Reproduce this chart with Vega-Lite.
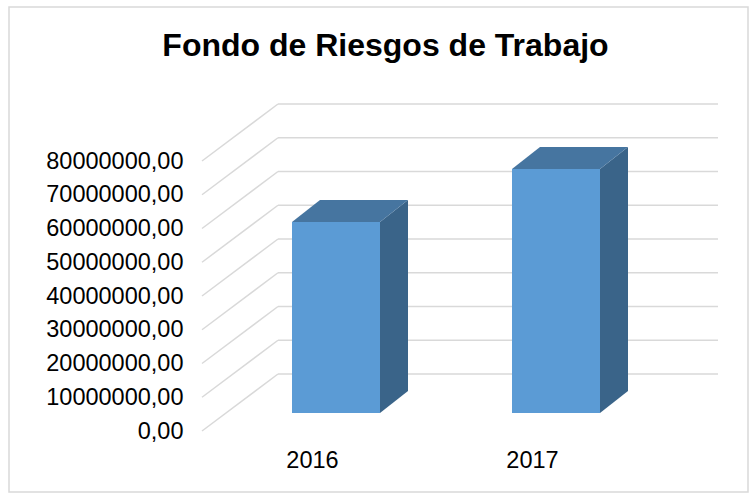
{
  "$schema": "https://vega.github.io/schema/vega-lite/v6.json",
  "autosize": "none",
  "width": 739,
  "height": 485,
  "padding": {"left": 9, "top": 7, "right": 6, "bottom": 2},
  "background": "white",
  "config": {
    "view": {"stroke": "#D9D9D9", "strokeWidth": 1.5},
    "font": "Liberation Sans"
  },
  "params": [
    {"name": "wallDx", "value": 0.34545},
    {"name": "wallDy", "value": 16889000},
    {"name": "barShiftX", "value": 0.10909},
    {"name": "barShiftY", "value": 5333000},
    {"name": "barHalf", "value": 0.2},
    {"name": "barDx", "value": 0.12727},
    {"name": "barDy", "value": 6519000}
  ],
  "title": {
    "text": "Fondo de Riesgos de Trabajo",
    "font": "Liberation Sans",
    "fontSize": 32,
    "fontWeight": "bold",
    "color": "#000000",
    "anchor": "middle",
    "baseline": "alphabetic",
    "offset": -50,
    "dy": 31,
    "dx": 7
  },
  "datasets": {
    "fondo": [
      {"year": "2016", "value": 56600000},
      {"year": "2017", "value": 72300000}
    ],
    "ticks": [
      {"tick": 0}, {"tick": 10000000}, {"tick": 20000000}, {"tick": 30000000},
      {"tick": 40000000}, {"tick": 50000000}, {"tick": 60000000}, {"tick": 70000000},
      {"tick": 80000000}
    ]
  },
  "layer": [
    {
      "data": {"name": "ticks"},
      "transform": [
        {"calculate": "datum.tick + wallDy", "as": "yb"},
        {"calculate": "wallDx", "as": "x0"},
        {"calculate": "2 + wallDx", "as": "x1"}
      ],
      "mark": {"type": "rule", "color": "#D9D9D9", "strokeWidth": 1.5},
      "encoding": {
        "x": {
          "field": "x0", "type": "quantitative", "title": null,
          "scale": {"domain": [-0.87727, 2.48182], "nice": false, "zero": false},
          "axis": {
            "values": [0.5, 1.5],
            "labelExpr": "datum.value < 1 ? '2016' : '2017'",
            "domain": false, "ticks": false, "tickSize": 0, "grid": false,
            "labelPadding": 0, "offset": -25, "labelBaseline": "alphabetic",
            "labelFont": "Liberation Sans", "labelFontSize": 23.5, "labelColor": "#000000",
            "labelFlush": false
          }
        },
        "x2": {"field": "x1"},
        "y": {
          "field": "yb", "type": "quantitative", "title": null,
          "scale": {"domain": [-18074000, 125630000], "nice": false, "zero": false},
          "axis": {
            "values": [0, 10000000, 20000000, 30000000, 40000000, 50000000, 60000000, 70000000, 80000000],
            "labelExpr": "replace(format(datum.value, '.2f'), '.', ',')",
            "domain": false, "ticks": false, "tickSize": 0, "grid": false,
            "labelPadding": 0, "offset": -174,
            "labelFont": "Liberation Sans", "labelFontSize": 23.5, "labelColor": "#000000",
            "labelFlush": false, "labelOverlap": false
          }
        }
      }
    },
    {
      "data": {"name": "ticks"},
      "transform": [
        {"calculate": "datum.tick + wallDy", "as": "yb"},
        {"calculate": "0", "as": "x0"},
        {"calculate": "wallDx", "as": "x1"}
      ],
      "mark": {"type": "rule", "color": "#D9D9D9", "strokeWidth": 1.5},
      "encoding": {
        "x": {"field": "x0", "type": "quantitative", "title": null},
        "x2": {"field": "x1"},
        "y": {"field": "tick", "type": "quantitative", "title": null},
        "y2": {"field": "yb"}
      }
    },
    {
      "data": {"name": "fondo"},
      "transform": [
        {"window": [{"op": "row_number", "as": "n"}], "sort": [{"field": "year"}]},
        {"calculate": "datum.n - 0.5 + barShiftX + barHalf", "as": "xr"},
        {"calculate": "barShiftY", "as": "yb"},
        {"calculate": "datum.value + barShiftY", "as": "yt"},
        {"calculate": "0", "as": "d0"},
        {"calculate": "1", "as": "d1"},
        {"fold": ["d0", "d1"], "as": ["dk", "t"]},
        {"calculate": "datum.xr + datum.t * barDx", "as": "sx"},
        {"calculate": "datum.yb + datum.t * barDy", "as": "sy0"},
        {"calculate": "datum.yt + datum.t * barDy", "as": "sy1"}
      ],
      "mark": {"type": "area", "orient": "vertical", "color": "#3A6489", "opacity": 1},
      "encoding": {
        "x": {"field": "sx", "type": "quantitative", "title": null},
        "y": {"field": "sy1", "type": "quantitative", "title": null},
        "y2": {"field": "sy0"},
        "detail": {"field": "year", "type": "nominal"}
      }
    },
    {
      "data": {"name": "fondo"},
      "transform": [
        {"window": [{"op": "row_number", "as": "n"}], "sort": [{"field": "year"}]},
        {"calculate": "datum.n - 0.5 + barShiftX - barHalf", "as": "xl"},
        {"calculate": "datum.n - 0.5 + barShiftX + barHalf", "as": "xr"},
        {"calculate": "datum.value + barShiftY", "as": "yt"},
        {"calculate": "0", "as": "d0"},
        {"calculate": "1", "as": "d1"},
        {"fold": ["d0", "d1"], "as": ["dk", "t"]},
        {"calculate": "datum.xl + datum.t * barDx", "as": "tx0"},
        {"calculate": "datum.xr + datum.t * barDx", "as": "tx1"},
        {"calculate": "datum.yt + datum.t * barDy", "as": "ty"}
      ],
      "mark": {"type": "area", "orient": "horizontal", "color": "#4675A0", "opacity": 1},
      "encoding": {
        "y": {"field": "ty", "type": "quantitative", "title": null},
        "x": {"field": "tx0", "type": "quantitative", "title": null},
        "x2": {"field": "tx1"},
        "detail": {"field": "year", "type": "nominal"}
      }
    },
    {
      "data": {"name": "fondo"},
      "transform": [
        {"window": [{"op": "row_number", "as": "n"}], "sort": [{"field": "year"}]},
        {"calculate": "datum.n - 0.5 + barShiftX - barHalf", "as": "xl"},
        {"calculate": "datum.n - 0.5 + barShiftX + barHalf", "as": "xr"},
        {"calculate": "barShiftY", "as": "yb"},
        {"calculate": "datum.value + barShiftY", "as": "yt"}
      ],
      "mark": {"type": "rect", "color": "#5B9BD5", "opacity": 1},
      "encoding": {
        "x": {"field": "xl", "type": "quantitative", "title": null},
        "x2": {"field": "xr"},
        "y": {"field": "yb", "type": "quantitative", "title": null},
        "y2": {"field": "yt"},
        "tooltip": [
          {"field": "year", "type": "nominal"},
          {"field": "value", "type": "quantitative", "format": ",.2f"}
        ]
      }
    }
  ]
}
